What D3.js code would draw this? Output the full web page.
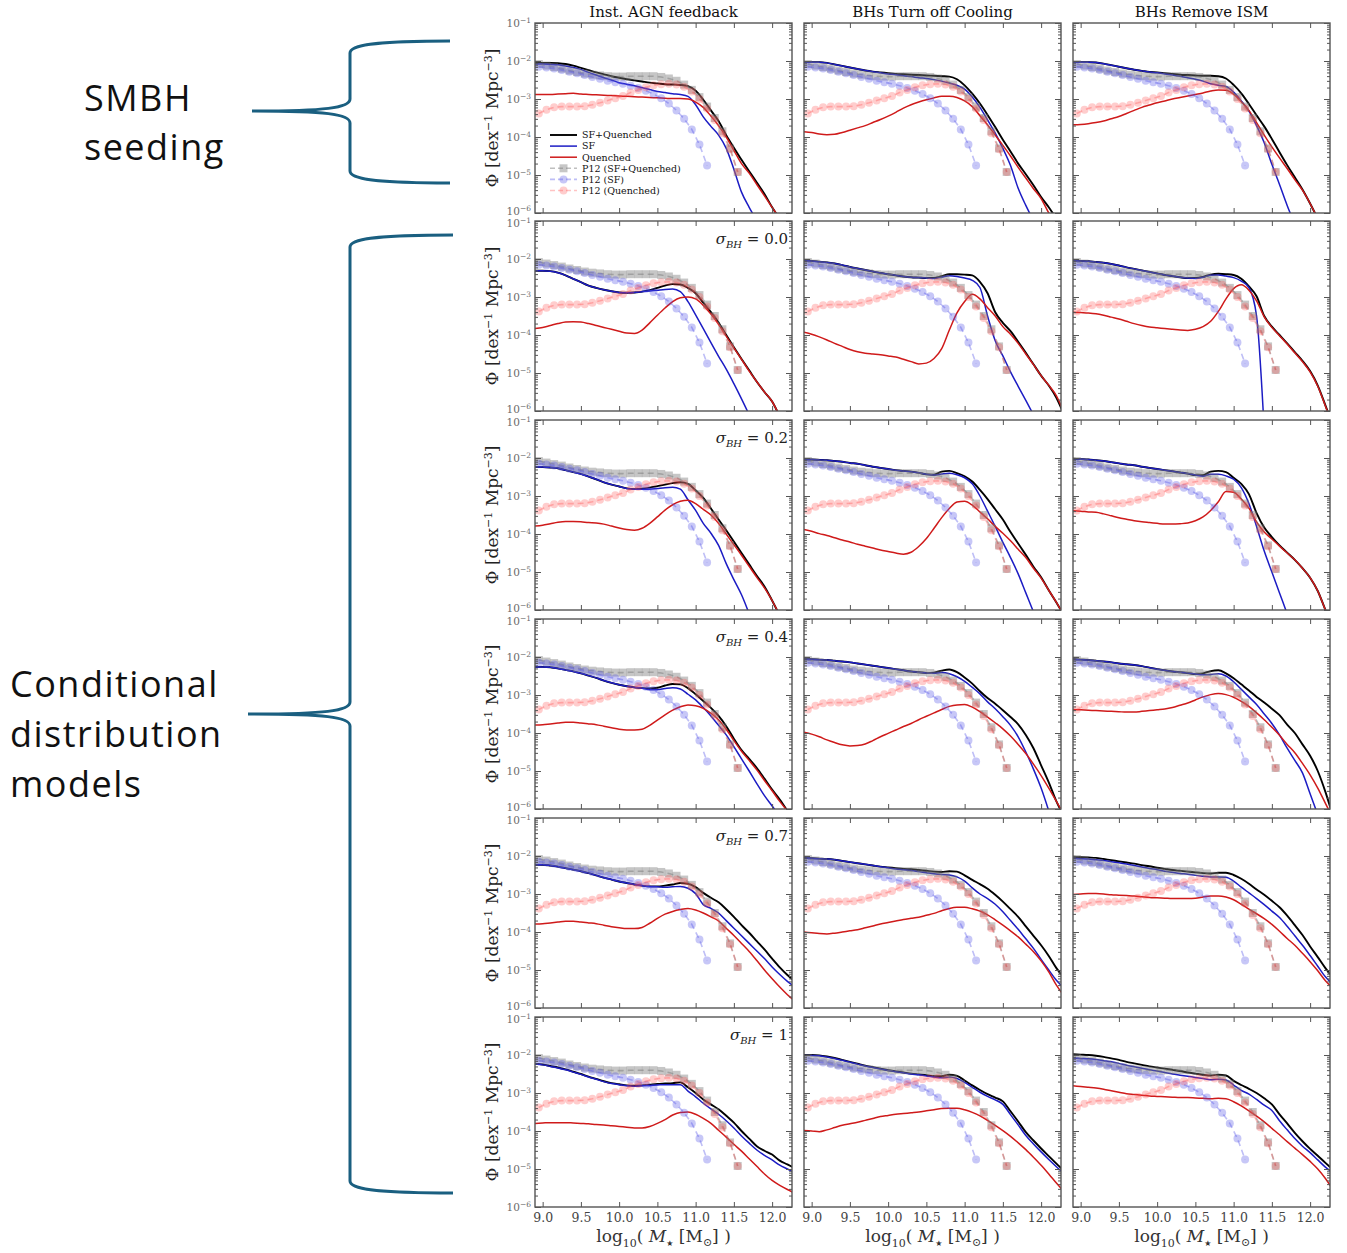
<!DOCTYPE html>
<html>
<head>
<meta charset="utf-8">
<script src="https://cdn.jsdelivr.net/npm/d3@7/dist/d3.min.js"></script>
<style>
  body { margin: 0; background: #fff; }
</style>
</head>
<body>
<script>
// ---- labels ----
const colTitles = ["Inst. AGN feedback", "BHs Turn off Cooling", "BHs Remove ISM"];
const sigmaLabels = [null, "0.0", "0.2", "0.4", "0.7", "1"];
const xTickVals = [9.0, 9.5, 10.0, 10.5, 11.0, 11.5, 12.0];
const yMajorVals = [1e-1, 1e-2, 1e-3, 1e-4, 1e-5, 1e-6];
const legendLabels = ["SF+Quenched", "SF", "Quenched", "P12 (SF+Quenched)", "P12 (SF)", "P12 (Quenched)"];

// ---- model grid: log10(M*) ----
const massGrid = [8.9, 9.0, 9.1, 9.2, 9.3, 9.4, 9.5, 9.6, 9.7, 9.8, 9.9, 10.0, 10.1, 10.2, 10.3, 10.4, 10.5,
  10.6, 10.7, 10.8, 10.9, 11.0, 11.1, 11.2, 11.3, 11.4, 11.5, 11.6, 11.7, 11.8, 11.9, 12.0, 12.1, 12.2, 12.3];

// model curves, log10(Phi), one value per massGrid point (null = off the plot)
// row 1: SMBH seeding
const inst_seed_all = [-2.05,-2.05,-2.05,-2.06,-2.08,-2.12,-2.18, -2.24,-2.30,-2.35,-2.40,-2.44,-2.48,-2.51, -2.54,-2.57,-2.59,-2.61,-2.62,-2.63,-2.66, -2.78,-3.02,-3.30,-3.58,-3.95,-4.28,-4.60, -4.90,-5.20,-5.50,-5.85,-6.15,null,null];
const inst_seed_sf  = [-2.08,-2.08,-2.09,-2.10,-2.13,-2.17,-2.22, -2.30,-2.37,-2.44,-2.50,-2.57,-2.61,-2.65, -2.70,-2.75,-2.80,-2.83,-2.86,-2.88,-2.93, -3.15,-3.47,-3.72,-3.95,-4.30,-4.85,-5.45, -5.85,-6.20,null,null,null,null,null];
const inst_seed_q   = [-2.88,-2.88,-2.88,-2.87,-2.86,-2.85,-2.87, -2.88,-2.89,-2.90,-2.91,-2.92,-2.93,-2.94, -2.95,-2.96,-2.97,-2.98,-2.99,-2.99,-3.00, -3.08,-3.22,-3.45,-3.70,-4.00,-4.35,-4.70, -4.95,-5.25,-5.55,-5.85,-6.15,null,null];
const cool_seed_all = [-2.03,-2.03,-2.03,-2.05,-2.09,-2.13,-2.17, -2.21,-2.25,-2.28,-2.30,-2.32,-2.34,-2.35, -2.36,-2.37,-2.38,-2.39,-2.40,-2.41,-2.48, -2.64,-2.86,-3.12,-3.42,-3.74,-4.07,-4.38, -4.70,-4.98,-5.27,-5.58,-5.85,-6.15,null];
const cool_seed_sf  = [-2.03,-2.03,-2.03,-2.05,-2.09,-2.13,-2.17, -2.21,-2.25,-2.28,-2.31,-2.34,-2.36,-2.39, -2.41,-2.44,-2.46,-2.49,-2.53,-2.58,-2.64, -2.74,-2.95,-3.22,-3.55,-3.90,-4.30,-4.75, -5.35,-5.80,-6.20,null,null,null,null];
const cool_seed_q   = [-3.86,-3.88,-3.92,-3.94,-3.93,-3.88,-3.82, -3.76,-3.70,-3.62,-3.54,-3.45,-3.35,-3.24, -3.15,-3.08,-3.02,-2.97,-2.93,-2.93,-2.96, -3.05,-3.20,-3.44,-3.68,-3.95,-4.22,-4.50, -4.80,-5.08,-5.36,-5.62,-6.00,-6.30,null];
const ism_seed_all  = [-2.03,-2.03,-2.03,-2.04,-2.07,-2.11,-2.15, -2.19,-2.23,-2.26,-2.29,-2.30,-2.32,-2.34, -2.36,-2.37,-2.38,-2.39,-2.39,-2.40,-2.46, -2.63,-2.85,-3.13,-3.43,-3.72,-4.05,-4.40, -4.74,-5.06,-5.38,-5.75,-6.15,null,null];
const ism_seed_sf   = [-2.03,-2.03,-2.03,-2.04,-2.07,-2.11,-2.15, -2.19,-2.23,-2.26,-2.29,-2.31,-2.34,-2.37, -2.40,-2.44,-2.48,-2.53,-2.60,-2.64,-2.67, -2.82,-3.05,-3.32,-3.70,-4.15,-4.72,-5.25, -5.80,-6.30,null,null,null,null,null];
const ism_seed_q    = [-3.68,-3.67,-3.65,-3.62,-3.58,-3.52,-3.46, -3.38,-3.30,-3.22,-3.16,-3.10,-3.05,-3.00, -2.96,-2.92,-2.88,-2.84,-2.79,-2.76,-2.77, -2.87,-3.07,-3.30,-3.62,-3.95,-4.26,-4.55, -4.83,-5.12,-5.40,-5.75,-6.15,null,null];
// row 2: sigma_BH = 0.0
const inst_s00_all = [-2.31,-2.31,-2.32,-2.36,-2.43,-2.52,-2.61, -2.70,-2.76,-2.81,-2.85,-2.88,-2.89,-2.88, -2.86,-2.82,-2.76,-2.70,-2.66,-2.67,-2.76, -2.90,-3.15,-3.40,-3.67,-4.00,-4.32,-4.63, -4.93,-5.23,-5.50,-5.75,-6.15,null,null];
const inst_s00_sf  = [-2.31,-2.31,-2.32,-2.36,-2.43,-2.52,-2.61, -2.70,-2.76,-2.81,-2.85,-2.88,-2.89,-2.88, -2.86,-2.84,-2.82,-2.80,-2.79,-2.86,-3.12, -3.47,-3.83,-4.20,-4.56,-4.90,-5.28,-5.68, -6.10,null,null,null,null,null,null];
const inst_s00_q   = [-3.83,-3.80,-3.75,-3.70,-3.66,-3.65,-3.66, -3.70,-3.75,-3.80,-3.85,-3.90,-3.95,-3.96, -3.87,-3.68,-3.48,-3.29,-3.12,-3.02,-3.00, -3.05,-3.22,-3.45,-3.72,-4.03,-4.34,-4.64, -4.95,-5.23,-5.50,-5.75,-6.15,null,null];
const cool_s00_all = [-2.04,-2.05,-2.07,-2.09,-2.12,-2.16,-2.21, -2.25,-2.29,-2.33,-2.37,-2.40,-2.43,-2.46, -2.48,-2.49,-2.50,-2.50,-2.45,-2.40,-2.40, -2.41,-2.43,-2.60,-2.90,-3.40,-3.68,-3.90, -4.18,-4.47,-4.77,-5.07,-5.33,-5.65,-6.10];
const cool_s00_sf  = [-2.04,-2.05,-2.07,-2.09,-2.12,-2.16,-2.21, -2.25,-2.29,-2.33,-2.37,-2.40,-2.43,-2.46, -2.48,-2.49,-2.50,-2.51,-2.48,-2.44,-2.46, -2.50,-2.56,-2.75,-3.50,-4.15,-4.55,-4.97, -5.35,-5.72,-6.10,null,null,null,null];
const cool_s00_q   = [-3.93,-3.98,-4.05,-4.13,-4.22,-4.30,-4.38, -4.44,-4.48,-4.50,-4.52,-4.55,-4.58,-4.64, -4.70,-4.76,-4.74,-4.62,-4.36,-3.87,-3.42, -3.12,-2.93,-3.05,-3.28,-3.50,-3.78,-3.98, -4.22,-4.50,-4.78,-5.07,-5.32,-5.60,-6.05];
const ism_s00_all  = [-2.04,-2.05,-2.06,-2.08,-2.10,-2.13,-2.17, -2.22,-2.26,-2.30,-2.34,-2.38,-2.42,-2.45, -2.48,-2.50,-2.50,-2.47,-2.41,-2.39,-2.40, -2.42,-2.52,-2.72,-2.98,-3.50,-3.78,-4.00, -4.22,-4.45,-4.68,-4.95,-5.33,-5.85,-6.40];
const ism_s00_sf   = [-2.04,-2.05,-2.06,-2.08,-2.10,-2.13,-2.17, -2.22,-2.26,-2.30,-2.34,-2.38,-2.42,-2.45, -2.48,-2.50,-2.51,-2.48,-2.43,-2.42,-2.45, -2.49,-2.58,-2.75,-3.50,-6.50,null,null, null,null,null,null,null,null,null];
const ism_s00_q    = [-3.40,-3.41,-3.42,-3.44,-3.48,-3.53,-3.58, -3.64,-3.70,-3.75,-3.79,-3.81,-3.83,-3.85, -3.87,-3.88,-3.85,-3.78,-3.64,-3.38,-3.05, -2.78,-2.68,-2.82,-3.10,-3.52,-3.80,-4.02, -4.24,-4.47,-4.70,-4.97,-5.35,-5.87,-6.42];
// row 3: sigma_BH = 0.2
const inst_s02_all = [-2.24,-2.24,-2.25,-2.27,-2.32,-2.37,-2.42, -2.49,-2.56,-2.64,-2.70,-2.75,-2.80,-2.82, -2.81,-2.78,-2.74,-2.70,-2.66,-2.64,-2.68, -2.85,-3.05,-3.33,-3.62,-3.90,-4.20,-4.50, -4.80,-5.10,-5.38,-5.75,-6.15,null,null];
const inst_s02_sf  = [-2.24,-2.24,-2.25,-2.27,-2.32,-2.37,-2.42, -2.49,-2.56,-2.64,-2.70,-2.75,-2.80,-2.82, -2.82,-2.82,-2.80,-2.78,-2.77,-2.82,-3.10, -3.38,-3.72,-3.98,-4.30,-4.78,-5.20,-5.60, -6.10,null,null,null,null,null,null];
const inst_s02_q   = [-3.79,-3.77,-3.73,-3.69,-3.67,-3.67,-3.68, -3.70,-3.71,-3.74,-3.79,-3.84,-3.88,-3.90, -3.85,-3.72,-3.55,-3.37,-3.23,-3.14,-3.11, -3.20,-3.35,-3.50,-3.72,-4.00,-4.28,-4.56, -4.85,-5.14,-5.42,-5.75,-6.15,null,null];
const cool_s02_all = [-2.04,-2.04,-2.05,-2.06,-2.08,-2.10,-2.13, -2.15,-2.19,-2.23,-2.26,-2.29,-2.32,-2.34, -2.36,-2.39,-2.43,-2.44,-2.36,-2.34,-2.40, -2.48,-2.62,-2.84,-3.08,-3.35,-3.62,-3.95, -4.25,-4.55,-4.86,-5.14,-5.48,-5.80,-6.15];
const cool_s02_sf  = [-2.04,-2.04,-2.05,-2.06,-2.08,-2.10,-2.13, -2.15,-2.19,-2.23,-2.26,-2.29,-2.32,-2.34, -2.36,-2.39,-2.43,-2.45,-2.42,-2.40,-2.44, -2.52,-2.68,-3.00,-3.40,-3.80,-4.22,-4.62, -5.05,-5.55,-6.05,null,null,null,null];
const cool_s02_q   = [-3.88,-3.93,-3.99,-4.04,-4.10,-4.16,-4.21, -4.27,-4.32,-4.37,-4.42,-4.46,-4.50,-4.53, -4.48,-4.33,-4.12,-3.85,-3.57,-3.33,-3.16, -3.14,-3.24,-3.42,-3.60,-3.80,-3.98,-4.18, -4.40,-4.62,-4.90,-5.16,-5.48,-5.80,-6.15];
const ism_s02_all  = [-2.02,-2.03,-2.04,-2.06,-2.08,-2.11,-2.14, -2.17,-2.19,-2.23,-2.26,-2.29,-2.32,-2.35, -2.38,-2.41,-2.45,-2.45,-2.36,-2.34,-2.37, -2.52,-2.68,-2.95,-3.45,-3.83,-4.08,-4.30, -4.49,-4.68,-4.90,-5.15,-5.50,-6.00,-6.50];
const ism_s02_sf   = [-2.02,-2.03,-2.04,-2.06,-2.08,-2.11,-2.14, -2.17,-2.19,-2.23,-2.26,-2.29,-2.32,-2.35, -2.38,-2.41,-2.45,-2.48,-2.43,-2.43,-2.47, -2.56,-2.78,-3.20,-3.80,-4.45,-5.00,-5.55, -6.10,null,null,null,null,null,null];
const ism_s02_q    = [-3.39,-3.40,-3.42,-3.43,-3.47,-3.52,-3.57, -3.61,-3.65,-3.68,-3.70,-3.72,-3.74,-3.74, -3.73,-3.71,-3.65,-3.55,-3.38,-3.15,-2.88, -2.90,-3.08,-3.32,-3.68,-3.95,-4.13,-4.32, -4.50,-4.68,-4.90,-5.15,-5.50,-6.00,-6.50];
// row 4: sigma_BH = 0.4
const inst_s04_all = [-2.26,-2.26,-2.27,-2.30,-2.34,-2.38,-2.43, -2.49,-2.55,-2.62,-2.68,-2.73,-2.77,-2.80, -2.82,-2.83,-2.81,-2.75,-2.71,-2.72,-2.82, -2.98,-3.16,-3.34,-3.55,-3.82,-4.15,-4.45, -4.68,-4.92,-5.20,-5.49,-5.75,-6.05,null];
const inst_s04_sf  = [-2.26,-2.26,-2.27,-2.30,-2.34,-2.38,-2.43, -2.49,-2.55,-2.62,-2.68,-2.73,-2.77,-2.80, -2.82,-2.86,-2.86,-2.83,-2.81,-2.84,-2.98, -3.13,-3.33,-3.55,-3.80,-4.05,-4.36,-4.68, -5.00,-5.33,-5.65,-5.92,-6.20,null,null];
const inst_s04_q   = [-3.79,-3.78,-3.76,-3.74,-3.72,-3.72,-3.74, -3.76,-3.78,-3.82,-3.86,-3.90,-3.92,-3.92, -3.90,-3.80,-3.66,-3.52,-3.40,-3.31,-3.26, -3.28,-3.35,-3.48,-3.65,-3.90,-4.20,-4.48, -4.72,-4.97,-5.25,-5.52,-5.80,-6.05,null];
const cool_s04_all = [-2.06,-2.06,-2.07,-2.08,-2.10,-2.12,-2.14, -2.17,-2.20,-2.23,-2.26,-2.29,-2.32,-2.35, -2.38,-2.40,-2.42,-2.41,-2.36,-2.33,-2.40, -2.54,-2.70,-2.90,-3.08,-3.23,-3.40,-3.58, -3.77,-4.05,-4.40,-4.85,-5.30,-5.80,-6.20];
const cool_s04_sf  = [-2.06,-2.06,-2.07,-2.08,-2.10,-2.12,-2.14, -2.17,-2.20,-2.23,-2.26,-2.29,-2.32,-2.35, -2.38,-2.40,-2.42,-2.43,-2.41,-2.44,-2.52, -2.64,-2.80,-2.97,-3.18,-3.36,-3.57,-3.80, -4.10,-4.50,-4.95,-5.45,-6.05,null,null];
const cool_s04_q   = [-3.98,-4.03,-4.10,-4.18,-4.25,-4.31,-4.34, -4.33,-4.29,-4.20,-4.10,-4.01,-3.92,-3.83, -3.75,-3.65,-3.56,-3.47,-3.38,-3.30,-3.26, -3.25,-3.32,-3.44,-3.58,-3.73,-3.89,-4.08, -4.30,-4.54,-4.82,-5.12,-5.45,-5.80,-6.15];
const ism_s04_all  = [-2.06,-2.07,-2.08,-2.10,-2.12,-2.14,-2.17, -2.19,-2.21,-2.24,-2.28,-2.32,-2.35,-2.38, -2.40,-2.42,-2.45,-2.43,-2.37,-2.35,-2.43, -2.56,-2.72,-2.88,-3.05,-3.20,-3.36,-3.53, -3.78,-4.00,-4.30,-4.60,-5.00,-5.55,-6.20];
const ism_s04_sf   = [-2.06,-2.07,-2.08,-2.10,-2.12,-2.14,-2.17, -2.19,-2.21,-2.24,-2.28,-2.32,-2.35,-2.38, -2.40,-2.42,-2.45,-2.47,-2.46,-2.44,-2.50, -2.65,-2.85,-3.05,-3.25,-3.50,-3.75,-4.05, -4.40,-4.72,-5.05,-5.60,-6.15,null,null];
const ism_s04_q    = [-3.38,-3.39,-3.40,-3.41,-3.42,-3.43,-3.44, -3.45,-3.45,-3.43,-3.41,-3.39,-3.37,-3.33, -3.27,-3.21,-3.13,-3.05,-2.99,-2.96,-2.99, -3.06,-3.17,-3.30,-3.47,-3.65,-3.85,-4.06, -4.30,-4.52,-4.80,-5.10,-5.45,-5.85,-6.25];
// row 5: sigma_BH = 0.7
const inst_s07_all = [-2.23,-2.23,-2.25,-2.28,-2.32,-2.36,-2.40, -2.45,-2.51,-2.57,-2.62,-2.67,-2.71,-2.75, -2.78,-2.80,-2.80,-2.78,-2.75,-2.71,-2.73, -2.82,-2.97,-3.10,-3.22,-3.40,-3.60,-3.82, -4.02,-4.24,-4.46,-4.70,-4.93,-5.13,-5.30];
const inst_s07_sf  = [-2.23,-2.23,-2.25,-2.28,-2.32,-2.36,-2.40, -2.45,-2.51,-2.57,-2.62,-2.67,-2.71,-2.75, -2.78,-2.80,-2.81,-2.82,-2.81,-2.80,-2.85, -2.99,-3.28,-3.38,-3.50,-3.70,-3.90,-4.10, -4.30,-4.50,-4.70,-4.92,-5.12,-5.30,-5.45];
const inst_s07_q   = [-3.79,-3.78,-3.76,-3.74,-3.72,-3.72,-3.74, -3.76,-3.78,-3.82,-3.86,-3.89,-3.91,-3.91, -3.88,-3.77,-3.64,-3.53,-3.46,-3.41,-3.38, -3.42,-3.50,-3.60,-3.71,-3.90,-4.09,-4.30, -4.51,-4.75,-5.00,-5.23,-5.45,-5.65,-5.82];
const cool_s07_all = [-2.05,-2.06,-2.07,-2.08,-2.10,-2.13,-2.16, -2.19,-2.22,-2.25,-2.28,-2.30,-2.32,-2.34, -2.35,-2.37,-2.39,-2.41,-2.42,-2.40,-2.41, -2.51,-2.63,-2.74,-2.86,-3.02,-3.20,-3.40, -3.60,-3.85,-4.10,-4.35,-4.63,-4.95,-5.20];
const cool_s07_sf  = [-2.05,-2.06,-2.07,-2.08,-2.10,-2.13,-2.16, -2.19,-2.22,-2.25,-2.28,-2.31,-2.34,-2.36, -2.38,-2.41,-2.44,-2.47,-2.49,-2.50,-2.55, -2.66,-2.84,-3.00,-3.12,-3.27,-3.47,-3.70, -3.93,-4.18,-4.43,-4.72,-5.00,-5.27,-5.48];
const cool_s07_q   = [-4.00,-4.02,-4.04,-4.05,-4.03,-4.00,-3.97, -3.94,-3.89,-3.84,-3.79,-3.75,-3.71,-3.67, -3.64,-3.61,-3.56,-3.51,-3.44,-3.38,-3.35, -3.35,-3.39,-3.45,-3.55,-3.68,-3.82,-3.97, -4.13,-4.32,-4.52,-4.76,-5.05,-5.40,-5.68];
const ism_s07_all  = [-2.02,-2.03,-2.04,-2.05,-2.08,-2.11,-2.14, -2.17,-2.20,-2.24,-2.27,-2.31,-2.34,-2.37, -2.39,-2.41,-2.43,-2.45,-2.46,-2.44,-2.44, -2.50,-2.60,-2.73,-2.88,-3.02,-3.18,-3.35, -3.57,-3.82,-4.08,-4.38,-4.66,-4.95,-5.20];
const ism_s07_sf   = [-2.06,-2.07,-2.08,-2.10,-2.12,-2.15,-2.18, -2.21,-2.25,-2.29,-2.33,-2.36,-2.40,-2.43, -2.46,-2.48,-2.51,-2.53,-2.55,-2.55,-2.56, -2.66,-2.82,-2.97,-3.12,-3.28,-3.45,-3.62, -3.85,-4.10,-4.35,-4.62,-4.90,-5.18,-5.38];
const ism_s07_q    = [-3.01,-3.00,-2.99,-2.99,-3.00,-3.02,-3.03, -3.04,-3.05,-3.07,-3.09,-3.10,-3.11,-3.12, -3.12,-3.12,-3.11,-3.08,-3.05,-3.05,-3.08, -3.15,-3.27,-3.40,-3.52,-3.65,-3.80,-3.98, -4.17,-4.35,-4.56,-4.78,-5.02,-5.28,-5.48];
// row 6: sigma_BH = 1
const inst_s10_all = [-2.23,-2.25,-2.29,-2.33,-2.38,-2.44,-2.50, -2.57,-2.63,-2.69,-2.74,-2.77,-2.80,-2.81, -2.80,-2.78,-2.76,-2.75,-2.74,-2.72,-2.85, -3.00,-3.17,-3.30,-3.43,-3.60,-3.78,-4.00, -4.20,-4.40,-4.52,-4.62,-4.78,-4.88,-4.98];
const inst_s10_sf  = [-2.24,-2.26,-2.30,-2.34,-2.39,-2.45,-2.51, -2.58,-2.64,-2.70,-2.75,-2.78,-2.81,-2.82, -2.81,-2.80,-2.79,-2.78,-2.78,-2.78,-2.95, -3.10,-3.27,-3.42,-3.56,-3.73,-3.92,-4.13, -4.32,-4.50,-4.64,-4.76,-4.90,-5.00,-5.10];
const inst_s10_q   = [-3.80,-3.79,-3.78,-3.78,-3.78,-3.79,-3.80, -3.81,-3.83,-3.84,-3.86,-3.88,-3.90,-3.92, -3.92,-3.88,-3.80,-3.70,-3.58,-3.51,-3.50, -3.56,-3.67,-3.80,-3.98,-4.16,-4.35,-4.53, -4.73,-4.93,-5.13,-5.30,-5.43,-5.54,-5.64];
const cool_s10_all = [-2.00,-2.00,-2.01,-2.04,-2.08,-2.13,-2.18, -2.23,-2.28,-2.32,-2.36,-2.40,-2.43,-2.46, -2.49,-2.51,-2.53,-2.56,-2.56,-2.52,-2.55, -2.67,-2.80,-2.92,-3.03,-3.12,-3.22,-3.48, -3.75,-4.03,-4.25,-4.46,-4.66,-4.86,-5.05];
const cool_s10_sf  = [-2.01,-2.01,-2.02,-2.05,-2.09,-2.14,-2.19, -2.24,-2.29,-2.33,-2.37,-2.41,-2.44,-2.47, -2.50,-2.52,-2.55,-2.58,-2.60,-2.58,-2.62, -2.72,-2.85,-2.98,-3.09,-3.18,-3.30,-3.57, -3.84,-4.12,-4.34,-4.55,-4.75,-4.94,-5.12];
const cool_s10_q   = [-3.99,-4.00,-4.02,-3.97,-3.91,-3.85,-3.81, -3.77,-3.72,-3.67,-3.62,-3.59,-3.56,-3.54, -3.52,-3.50,-3.47,-3.44,-3.41,-3.40,-3.40, -3.44,-3.51,-3.60,-3.72,-3.85,-3.99,-4.14, -4.31,-4.49,-4.69,-4.90,-5.13,-5.37,-5.60];
const ism_s10_all  = [-1.98,-1.99,-2.00,-2.02,-2.05,-2.09,-2.13, -2.18,-2.22,-2.26,-2.30,-2.33,-2.36,-2.39, -2.42,-2.46,-2.49,-2.52,-2.54,-2.52,-2.54, -2.68,-2.79,-2.89,-3.00,-3.14,-3.30,-3.56, -3.80,-4.05,-4.27,-4.47,-4.65,-4.84,-5.02];
const ism_s10_sf   = [-2.08,-2.09,-2.10,-2.12,-2.15,-2.18,-2.22, -2.27,-2.31,-2.35,-2.39,-2.42,-2.46,-2.50, -2.53,-2.56,-2.59,-2.62,-2.65,-2.64,-2.66, -2.79,-2.93,-3.03,-3.17,-3.32,-3.46,-3.73, -3.97,-4.20,-4.40,-4.57,-4.76,-4.95,-5.10];
const ism_s10_q    = [-2.81,-2.83,-2.85,-2.87,-2.90,-2.94,-2.98, -3.02,-3.04,-3.06,-3.08,-3.09,-3.10,-3.11, -3.12,-3.12,-3.13,-3.14,-3.15,-3.14,-3.15, -3.23,-3.34,-3.47,-3.61,-3.76,-3.93,-4.10, -4.28,-4.45,-4.62,-4.80,-5.00,-5.25,-5.55];

// ---- P12 observations (log10 Phi) ----
const p12Mass   = [8.95, 9.05, 9.15, 9.25, 9.35, 9.45, 9.55, 9.65, 9.75, 9.85, 9.95, 10.05, 10.15, 10.25, 10.35,
  10.45, 10.55, 10.65, 10.75, 10.85, 10.95, 11.05, 11.15, 11.25, 11.35, 11.45, 11.55];
const p12MassSF = [8.95, 9.05, 9.15, 9.25, 9.35, 9.45, 9.55, 9.65, 9.75, 9.85, 9.95, 10.05, 10.15, 10.25, 10.35,
  10.45, 10.55, 10.65, 10.75, 10.85, 10.95, 11.05, 11.15];
const p12All = [-2.08,-2.12,-2.16,-2.20,-2.25,-2.29,-2.33,-2.36,-2.38,-2.40,-2.41,-2.41,-2.40,-2.40,-2.40,-2.40,-2.42,-2.46,-2.52,-2.62,-2.76,-2.95,-3.20,-3.50,-3.85,-4.30,-4.92];
const p12SF  = [-2.15,-2.17,-2.20,-2.24,-2.28,-2.32,-2.37,-2.42,-2.47,-2.52,-2.56,-2.60,-2.65,-2.71,-2.78,-2.87,-2.98,-3.12,-3.30,-3.52,-3.80,-4.20,-4.75];
const p12Q   = [-3.38,-3.28,-3.22,-3.20,-3.20,-3.20,-3.19,-3.15,-3.10,-3.04,-2.98,-2.92,-2.83,-2.76,-2.69,-2.64,-2.61,-2.60,-2.62,-2.68,-2.80,-3.00,-3.25,-3.55,-3.90,-4.32,-4.92];

// panels[row][col] = [total, SF, quenched]
const panels = [
  [[inst_seed_all, inst_seed_sf, inst_seed_q], [cool_seed_all, cool_seed_sf, cool_seed_q], [ism_seed_all, ism_seed_sf, ism_seed_q]],
  [[inst_s00_all, inst_s00_sf, inst_s00_q], [cool_s00_all, cool_s00_sf, cool_s00_q], [ism_s00_all, ism_s00_sf, ism_s00_q]],
  [[inst_s02_all, inst_s02_sf, inst_s02_q], [cool_s02_all, cool_s02_sf, cool_s02_q], [ism_s02_all, ism_s02_sf, ism_s02_q]],
  [[inst_s04_all, inst_s04_sf, inst_s04_q], [cool_s04_all, cool_s04_sf, cool_s04_q], [ism_s04_all, ism_s04_sf, ism_s04_q]],
  [[inst_s07_all, inst_s07_sf, inst_s07_q], [cool_s07_all, cool_s07_sf, cool_s07_q], [ism_s07_all, ism_s07_sf, ism_s07_q]],
  [[inst_s10_all, inst_s10_sf, inst_s10_q], [cool_s10_all, cool_s10_sf, cool_s10_q], [ism_s10_all, ism_s10_sf, ism_s10_q]],
];

// ---- layout / style ----
const W = 1347, H = 1253;
const colLeft = [535, 804, 1073];
const rowTop = [23, 221, 420, 619, 818, 1017];
const pw = 257, ph = 190;
const serif = "'DejaVu Serif', 'Liberation Serif', serif";
const lineStyles = [
  { color: "#000000", width: 1.9 },
  { color: "#1c1cc4", width: 1.5 },
  { color: "#cf1a1a", width: 1.5 },
];
const p12Styles = [
  { mass: p12Mass,   vals: p12All, color: "#777777", op: 0.42, shape: "square" },
  { mass: p12MassSF, vals: p12SF,  color: "#4a4ae6", op: 0.31, shape: "circle" },
  { mass: p12Mass,   vals: p12Q,   color: "#ff4a4a", op: 0.28, shape: "circle" },
];

const x = d3.scaleLinear().domain([8.9, 12.26]).range([0, pw]);
const y = d3.scaleLog().domain([1e-6, 1e-1]).range([ph, 0]);

const yMinorVals = [];
for (let e = -6; e < -1; e++) for (let k = 2; k <= 9; k++) yMinorVals.push(k * Math.pow(10, e));

const svg = d3.select("body").append("svg")
  .attr("width", W).attr("height", H)
  .style("font-family", serif);
const defs = svg.append("defs");

const line = d3.line()
  .defined(d => d[1] != null)
  .x(d => x(d[0]))
  .y(d => y(Math.pow(10, d[1])))
  .curve(d3.curveMonotoneX);

function drawP12(g) {
  p12Styles.forEach(s => {
    const pts = s.mass.map((m, i) => [m, s.vals[i]]);
    g.append("path")
      .attr("d", d3.line().x(d => x(d[0])).y(d => y(Math.pow(10, d[1])))(pts))
      .attr("fill", "none")
      .attr("stroke", s.color)
      .attr("stroke-opacity", s.op + 0.05)
      .attr("stroke-width", 1.6)
      .attr("stroke-dasharray", "6,4");
    if (s.shape === "square") {
      g.selectAll(null).data(pts).enter().append("rect")
        .attr("x", d => x(d[0]) - 4).attr("y", d => y(Math.pow(10, d[1])) - 4)
        .attr("width", 8).attr("height", 8)
        .attr("fill", s.color).attr("fill-opacity", s.op);
    } else {
      g.selectAll(null).data(pts).enter().append("circle")
        .attr("cx", d => x(d[0])).attr("cy", d => y(Math.pow(10, d[1])))
        .attr("r", 4)
        .attr("fill", s.color).attr("fill-opacity", s.op);
    }
  });
}

function styleAxis(g) {
  g.select(".domain").remove();
  g.selectAll(".tick line").attr("stroke", "#555").attr("stroke-width", 1);
}

panels.forEach((row, r) => {
  row.forEach((series, c) => {
    const g = svg.append("g").attr("transform", `translate(${colLeft[c]},${rowTop[r]})`);
    const clipId = `clip-${r}-${c}`;
    defs.append("clipPath").attr("id", clipId)
      .append("rect").attr("width", pw).attr("height", ph);
    const plot = g.append("g").attr("clip-path", `url(#${clipId})`);

    series.forEach((vals, k) => {
      plot.append("path")
        .datum(massGrid.map((m, i) => [m, vals[i]]))
        .attr("d", line)
        .attr("fill", "none")
        .attr("stroke", lineStyles[k].color)
        .attr("stroke-width", lineStyles[k].width)
        .attr("stroke-linejoin", "round");
    });
    drawP12(plot);

    // frame
    g.append("rect").attr("width", pw).attr("height", ph)
      .attr("fill", "none").attr("stroke", "#555").attr("stroke-width", 1.4);

    // x ticks (inward), labels only on the last row
    const lastRow = r === panels.length - 1;
    g.append("g").attr("transform", `translate(0,${ph})`)
      .call(d3.axisBottom(x).tickValues(xTickVals).tickSizeInner(-5).tickSizeOuter(0).tickPadding(6)
        .tickFormat(lastRow ? d3.format(".1f") : () => ""))
      .call(styleAxis)
      .call(a => a.selectAll("text").attr("font-family", serif).attr("font-size", 12.5).attr("fill", "#444"));
    g.append("g")
      .call(d3.axisTop(x).tickValues(xTickVals).tickSizeInner(-5).tickSizeOuter(0).tickFormat(() => ""))
      .call(styleAxis);

    // y ticks (inward, log minors)
    g.append("g")
      .call(d3.axisLeft(y).tickValues(yMinorVals).tickSizeInner(-3).tickSizeOuter(0).tickFormat(() => ""))
      .call(styleAxis);
    g.append("g").attr("transform", `translate(${pw},0)`)
      .call(d3.axisRight(y).tickValues(yMinorVals).tickSizeInner(-3).tickSizeOuter(0).tickFormat(() => ""))
      .call(styleAxis);
    g.append("g").attr("transform", `translate(${pw},0)`)
      .call(d3.axisRight(y).tickValues(yMajorVals).tickSizeInner(-6).tickSizeOuter(0).tickFormat(() => ""))
      .call(styleAxis);
    g.append("g")
      .call(d3.axisLeft(y).tickValues(yMajorVals).tickSizeInner(-6).tickSizeOuter(0).tickPadding(4)
        .tickFormat(c === 0 ? (d => "10") : () => ""))
      .call(styleAxis)
      .call(a => a.selectAll(".tick text")
        .attr("font-family", serif).attr("font-size", 10.5).attr("fill", "#6a6a6a")
        .each(function (d) {
          if (c !== 0) return;
          const t = d3.select(this);
          const e = Math.round(-Math.log10(d));
          // pull the end labels a little apart where panels meet
          if (e === 6 && r < panels.length - 1) t.attr("y", -2);
          if (e === 1 && r > 0) t.attr("y", 2);
          t.text(null);
          t.append("tspan").text("10");
          t.append("tspan").attr("dy", "-0.5em").attr("font-size", 7.5).text("\u2212" + e);
        }));

    // sigma label
    if (c === 0 && sigmaLabels[r]) {
      const t = g.append("text").attr("x", pw - 4).attr("y", 23)
        .attr("text-anchor", "end").attr("font-size", 15).attr("fill", "#222");
      t.append("tspan").attr("font-style", "italic").text("\u03C3");
      t.append("tspan").attr("font-style", "italic").attr("font-size", 10).attr("dy", 4).text("BH");
      t.append("tspan").attr("dy", -4).text(" = " + sigmaLabels[r]);
    }

    // y-axis label
    if (c === 0) {
      const t = g.append("text")
        .attr("transform", `translate(-37,${ph / 2}) rotate(-90)`)
        .attr("text-anchor", "middle").attr("font-size", 17).attr("fill", "#222");
      t.append("tspan").text("\u03A6 [dex");
      t.append("tspan").attr("dy", -6).attr("font-size", 11).text("\u22121");
      t.append("tspan").attr("dy", 6).text(" Mpc");
      t.append("tspan").attr("dy", -6).attr("font-size", 11).text("\u22123");
      t.append("tspan").attr("dy", 6).text("]");
    }

    // x-axis label
    if (lastRow) {
      const t = g.append("text").attr("x", pw / 2).attr("y", ph + 35)
        .attr("text-anchor", "middle").attr("font-size", 17).attr("fill", "#333");
      t.append("tspan").text("log");
      t.append("tspan").attr("dy", 5).attr("font-size", 11).text("10");
      t.append("tspan").attr("dy", -5).text("( ");
      t.append("tspan").attr("font-style", "italic").text("M");
      t.append("tspan").attr("dy", 4).attr("font-size", 8).attr("font-family", "'DejaVu Sans', sans-serif").text("\u2605");
      t.append("tspan").attr("dy", -4).text(" [M");
      t.append("tspan").attr("dy", 4).attr("font-size", 11).text("\u2299");
      t.append("tspan").attr("dy", -4).text("] )");
    }

    // column titles
    if (r === 0) {
      g.append("text").attr("x", pw / 2).attr("y", -6)
        .attr("text-anchor", "middle").attr("font-size", 15).attr("fill", "#111")
        .text(colTitles[c]);
    }

    // legend
    if (r === 0 && c === 0) {
      const lg = g.append("g").attr("transform", "translate(15,112)");
      legendLabels.forEach((lab, i) => {
        const ly = i * 11.1;
        const item = lg.append("g").attr("transform", `translate(0,${ly})`);
        if (i < 3) {
          item.append("line").attr("x1", 0).attr("x2", 27)
            .attr("stroke", lineStyles[i].color).attr("stroke-width", lineStyles[i].width);
        } else {
          const s = p12Styles[i - 3];
          item.append("line").attr("x1", 0).attr("x2", 27)
            .attr("stroke", s.color).attr("stroke-opacity", s.op + 0.05)
            .attr("stroke-width", 1.6).attr("stroke-dasharray", "5,3");
          if (s.shape === "square") {
            item.append("rect").attr("x", 9.5).attr("y", -4).attr("width", 8).attr("height", 8)
              .attr("fill", s.color).attr("fill-opacity", s.op);
          } else {
            item.append("circle").attr("cx", 13.5).attr("r", 4)
              .attr("fill", s.color).attr("fill-opacity", s.op);
          }
        }
        item.append("text").attr("x", 32).attr("dy", "0.35em")
          .attr("font-size", 9.5).attr("fill", "#111").text(lab);
      });
    }
  });
});

// ---- left annotations ----
const sans = "'Open Sans', 'Noto Sans', sans-serif";
const annotations = [
  { lines: ["SMBH", "seeding"], x: 84, y: 111, step: 49 },
  { lines: ["Conditional", "distribution", "models"], x: 10, y: 697, step: 50 },
];
annotations.forEach(a => {
  a.lines.forEach((txt, i) => {
    svg.append("text").attr("x", a.x).attr("y", a.y + i * a.step)
      .attr("font-family", sans).attr("font-size", 36).attr("letter-spacing", 1.5)
      .attr("fill", "#111").text(txt);
  });
});

const brackets = [
  { top: 41, mid: 111, bottom: 183, xEnd: 450, xSpine: 350, xTip: 252 },
  { top: 235, mid: 714, bottom: 1193, xEnd: 453, xSpine: 350, xTip: 248 },
];
brackets.forEach(b => {
  const p = d3.path();
  p.moveTo(b.xEnd, b.top);
  p.bezierCurveTo(b.xSpine + 25, b.top, b.xSpine, b.top + 4, b.xSpine, b.top + 12);
  p.lineTo(b.xSpine, b.mid - 12);
  p.bezierCurveTo(b.xSpine, b.mid - 3, b.xSpine - 25, b.mid, b.xTip, b.mid);
  p.moveTo(b.xTip, b.mid);
  p.bezierCurveTo(b.xSpine - 25, b.mid, b.xSpine, b.mid + 3, b.xSpine, b.mid + 12);
  p.lineTo(b.xSpine, b.bottom - 12);
  p.bezierCurveTo(b.xSpine, b.bottom - 4, b.xSpine + 25, b.bottom, b.xEnd, b.bottom);
  svg.append("path").attr("d", p.toString())
    .attr("fill", "none").attr("stroke", "#1a5f80").attr("stroke-width", 3);
});
</script>
</body>
</html>
